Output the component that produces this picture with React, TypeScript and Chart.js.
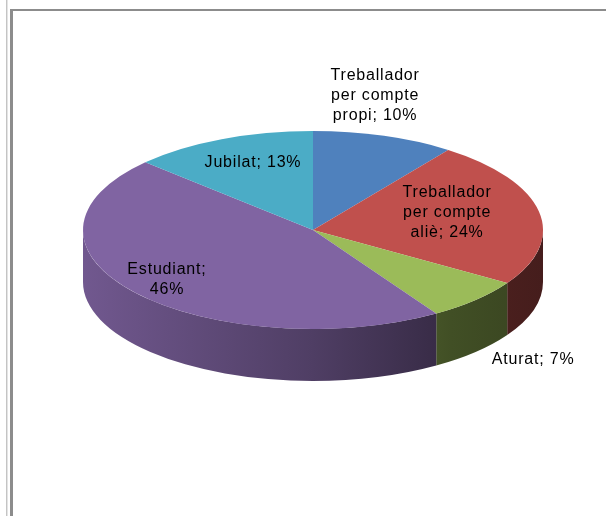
import React, { useEffect, useRef } from "react";
import { Chart, registerables } from "chart.js";

Chart.register(...registerables);

// ---- data ----
const CATEGORIES = [
  "Treballador per compte propi",
  "Treballador per compte aliè",
  "Aturat",
  "Estudiant",
  "Jubilat",
];
const VALUES = [10, 24, 7, 46, 13];

// ---- styles / layout ----
const COLORS = ["#4F81BD", "#C0504D", "#9BBB59", "#8064A2", "#4BACC6"];
const SIDE_SHADE: [number, number][] = [
  [0, 0.88],
  [0.5, 0.62],
  [0.8, 0.42],
  [1, 0.36],
];
const CENTER_Y = 230; // screen y of the tilted pie centre
const TILT = 99 / 230; // vertical squash of the top face
const DEPTH = 52; // thickness of the pie
// label block centre, in units of (rx, ry) relative to the pie centre
const LABEL_POS: [number, number][] = [
  [0.27, -1.354],
  [0.583, -0.18],
  [0.957, 1.313],
  [-0.635, 0.505],
  [-0.261, -0.677],
];
const LABEL_FONT = "16px 'Liberation Sans', Arial, sans-serif";
const LINE_H = 20;
const WRAP_W = 104;

function shade(hex: string, f: number) {
  const n = parseInt(hex.slice(1), 16);
  const r = Math.round(((n >> 16) & 255) * f);
  const g = Math.round(((n >> 8) & 255) * f);
  const b = Math.round((n & 255) * f);
  return `rgb(${r},${g},${b})`;
}

function wrap(ctx: CanvasRenderingContext2D, text: string, maxW: number) {
  const words = text.split(" ");
  const lines: string[] = [];
  let cur = "";
  for (const w of words) {
    const t = cur ? cur + " " + w : w;
    if (cur && ctx.measureText(t).width > maxW) {
      lines.push(cur);
      cur = w;
    } else cur = t;
  }
  if (cur) lines.push(cur);
  return lines;
}

const pie3d = {
  id: "pie3d",
  beforeDatasetsDraw(chart: any) {
    const arcs = chart.getDatasetMeta(0).data;
    if (!arcs.length) return;
    const { x: cx, y: cy0, outerRadius: R } = arcs[0].getProps(["x", "y", "outerRadius"], true);
    const rx = R;
    const ry = R * TILT;
    const cy = CENTER_Y;
    const ctx: CanvasRenderingContext2D = chart.ctx;
    ctx.save();
    arcs.forEach((arc: any, i: number) => {
      const { startAngle, endAngle } = arc.getProps(["startAngle", "endAngle"], true);
      const a0 = Math.max(startAngle, 0);
      const a1 = Math.min(endAngle, Math.PI);
      if (a1 <= a0) return;
      const g = ctx.createLinearGradient(cx - rx, 0, cx + rx, 0);
      SIDE_SHADE.forEach(([p, f]) => g.addColorStop(p, shade(COLORS[i], f)));
      ctx.beginPath();
      ctx.ellipse(cx, cy, rx, ry, 0, a0, a1);
      ctx.ellipse(cx, cy + DEPTH, rx, ry, 0, a1, a0, true);
      ctx.closePath();
      ctx.fillStyle = g;
      ctx.fill();
    });
    ctx.restore();
    ctx.save();
    ctx.translate(cx, cy);
    ctx.scale(1, TILT);
    ctx.translate(-cx, -cy0);
  },
  afterDatasetsDraw(chart: any) {
    const ctx: CanvasRenderingContext2D = chart.ctx;
    ctx.restore();
    const arcs = chart.getDatasetMeta(0).data;
    if (!arcs.length) return;
    const { x: cx, outerRadius: R } = arcs[0].getProps(["x", "outerRadius"], true);
    const rx = R;
    const ry = R * TILT;
    ctx.save();
    ctx.font = LABEL_FONT;
    (ctx as any).letterSpacing = "0.8px";
    ctx.fillStyle = "#000";
    ctx.textAlign = "center";
    ctx.textBaseline = "middle";
    CATEGORIES.forEach((c, i) => {
      const lines = wrap(ctx, `${c}; ${VALUES[i]}%`, WRAP_W);
      const [lx, ly] = LABEL_POS[i];
      const x = cx + lx * rx;
      const yc = CENTER_Y + ly * ry;
      const y0 = yc - ((lines.length - 1) * LINE_H) / 2;
      lines.forEach((l, j) => ctx.fillText(l, x, y0 + j * LINE_H));
    });
    ctx.restore();
  },
};

export default function App() {
  const ref = useRef<HTMLCanvasElement>(null);
  useEffect(() => {
    const chart = new Chart(ref.current as HTMLCanvasElement, {
      type: "pie",
      data: {
        labels: CATEGORIES,
        datasets: [{ data: VALUES, backgroundColor: COLORS, borderWidth: 0, clip: false } as any],
      },
      options: {
        responsive: false,
        animation: false,
        events: [],
        layout: { padding: { left: 83, right: 63, top: 28, bottom: 28 } },
        plugins: { legend: { display: false }, tooltip: { enabled: false } },
      } as any,
      plugins: [pie3d],
    });
    return () => chart.destroy();
  }, []);
  return (
    <div
      style={{
        position: "fixed",
        left: 0,
        top: 0,
        width: 606,
        height: 516,
        background: "#fff",
        overflow: "hidden",
      }}
    >
      <div style={{ position: "absolute", left: 6, top: 0, width: 1, height: 516, background: "#c4c4c4" }} />
      <div style={{ position: "absolute", left: 7, top: 0, width: 1, height: 516, background: "#e4e4e4" }} />
      <div
        style={{
          position: "absolute",
          left: 10,
          top: 9,
          right: 0,
          bottom: 0,
          borderLeft: "3px solid #8c8c8c",
          borderTop: "2px solid #8c8c8c",
        }}
      />
      <canvas ref={ref} width={606} height={516} style={{ position: "absolute", left: 0, top: 0 }} />
    </div>
  );
}
